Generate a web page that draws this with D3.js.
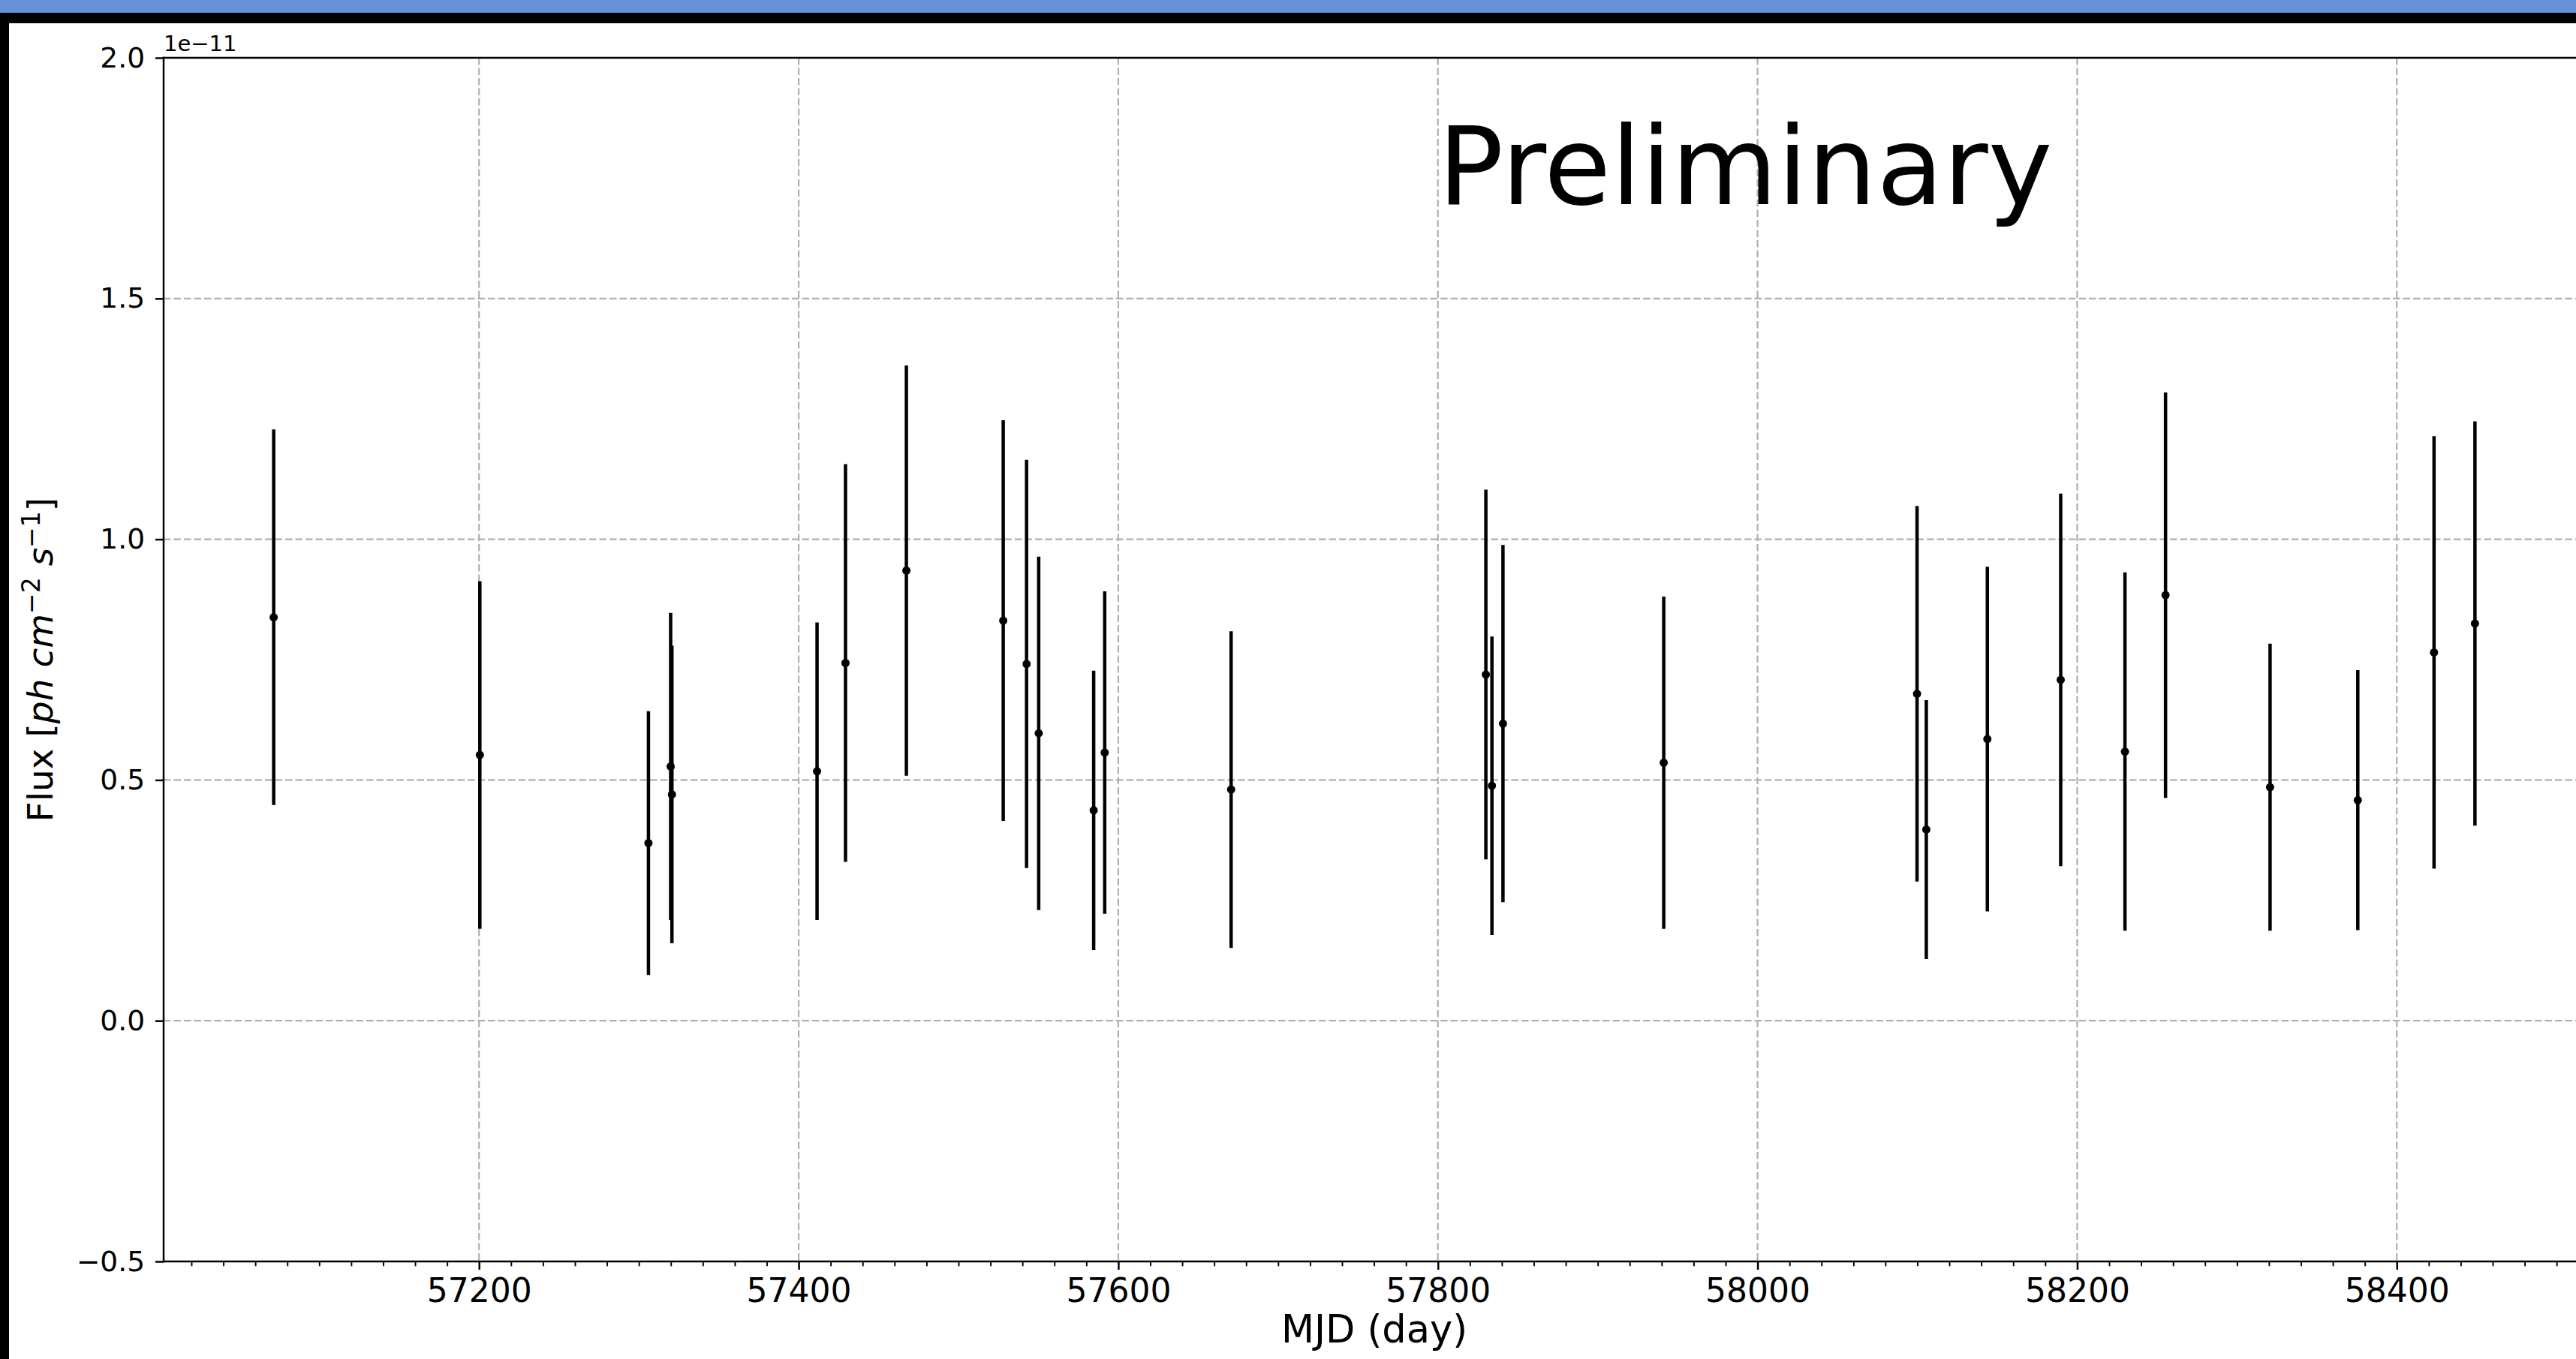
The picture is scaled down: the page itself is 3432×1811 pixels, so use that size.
<!DOCTYPE html>
<html>
<head>
<meta charset="utf-8">
<script src="https://cdn.jsdelivr.net/npm/d3@7"></script>
<style>
  html, body { margin: 0; padding: 0; background: #ffffff; overflow: hidden; }
  svg { display: block; }
  text { font-family: "DejaVu Sans", sans-serif; fill: #000; }
</style>
</head>
<body>
<svg id="chart" width="3432" height="1811"></svg>
<script>
// Light curve: flux per time bin (ph cm^-2 s^-1) with symmetric 1-sigma errors
const mjd = [57071.5, 57200.5, 57306.0, 57319.9, 57320.7, 57411.5, 57429.3, 57467.4,
             57528.0, 57542.6, 57550.2, 57584.6, 57591.5, 57670.6, 57830.0, 57833.8,
             57840.7, 57941.3, 58099.8, 58105.6, 58143.8, 58189.7, 58229.9, 58255.3,
             58320.7, 58375.6, 58423.3, 58448.9];
const flux = [0.838e-11, 0.552e-11, 0.369e-11, 0.528e-11, 0.470e-11, 0.518e-11, 0.743e-11, 0.935e-11,
              0.831e-11, 0.741e-11, 0.597e-11, 0.437e-11, 0.557e-11, 0.480e-11, 0.719e-11, 0.488e-11,
              0.617e-11, 0.536e-11, 0.679e-11, 0.397e-11, 0.585e-11, 0.708e-11, 0.559e-11, 0.884e-11,
              0.485e-11, 0.458e-11, 0.765e-11, 0.825e-11];
const fluxErr = [0.390e-11, 0.361e-11, 0.274e-11, 0.319e-11, 0.309e-11, 0.309e-11, 0.413e-11, 0.426e-11,
                 0.416e-11, 0.424e-11, 0.367e-11, 0.290e-11, 0.335e-11, 0.329e-11, 0.384e-11, 0.310e-11,
                 0.371e-11, 0.345e-11, 0.390e-11, 0.269e-11, 0.358e-11, 0.387e-11, 0.372e-11, 0.421e-11,
                 0.298e-11, 0.270e-11, 0.449e-11, 0.420e-11];

const xTicks = [57200, 57400, 57600, 57800, 58000, 58200, 58400];
const yTicks = [-0.5e-11, 0, 0.5e-11, 1.0e-11, 1.5e-11, 2.0e-11];
const yLimits = [-0.5e-11, 2.0e-11];
const offsetExp = -11;

const W = 3432, H = 1811;
const plot = { left: 218, top: 77, right: 3444, bottom: 1681 };

const svg = d3.select("#chart");

// page frame: blue strip and black border
svg.append("rect").attr("x", 0).attr("y", 0).attr("width", W).attr("height", H).attr("fill", "#ffffff");
svg.append("rect").attr("x", 0).attr("y", 0).attr("width", W).attr("height", 17).attr("fill", "#6592d9");
svg.append("rect").attr("x", 0).attr("y", 17).attr("width", W).attr("height", 14).attr("fill", "#000");
svg.append("rect").attr("x", 0).attr("y", 17).attr("width", 12).attr("height", H - 17).attr("fill", "#000");

// x limits with 5% margins around the data
const xMin = d3.min(mjd), xMax = d3.max(mjd);
const pad = 0.05 * (xMax - xMin);
const x = d3.scaleLinear().domain([xMin - pad, xMax + pad]).range([plot.left, plot.right]);
const y = d3.scaleLinear().domain(yLimits).range([plot.bottom, plot.top]);

const minorTicks = d3.range(Math.ceil(x.domain()[0] / 20) * 20, x.domain()[1], 20)
  .filter(v => v % 200 !== 0);

const gridColor = "#b0b0b0";
const grid = svg.append("g");
grid.selectAll("line.vx").data(xTicks).join("line")
  .attr("x1", d => x(d)).attr("x2", d => x(d))
  .attr("y1", plot.top).attr("y2", plot.bottom)
  .attr("stroke", gridColor).attr("stroke-width", 2.2).attr("stroke-dasharray", "9.5,4");
grid.selectAll("line.hy").data(yTicks).join("line")
  .attr("x1", plot.left).attr("x2", plot.right)
  .attr("y1", d => y(d)).attr("y2", d => y(d))
  .attr("stroke", gridColor).attr("stroke-width", 2.2).attr("stroke-dasharray", "9.5,4");

// axes
const fmtY = d => (d / Math.pow(10, offsetExp)).toFixed(1).replace("-", "\u2212");

const gx = svg.append("g").attr("transform", `translate(0,${plot.bottom})`)
  .call(d3.axisBottom(x).tickValues(xTicks).tickFormat(d3.format("d")).tickSize(11).tickPadding(12));
const gxMinor = svg.append("g").attr("transform", `translate(0,${plot.bottom})`)
  .call(d3.axisBottom(x).tickValues(minorTicks).tickFormat("").tickSize(6.3));
const gy = svg.append("g").attr("transform", `translate(${plot.left},0)`)
  .call(d3.axisLeft(y).tickValues(yTicks).tickFormat(fmtY).tickSize(11).tickPadding(14));

[gx, gxMinor, gy].forEach(g => g.select(".domain").remove());
gx.selectAll(".tick line").attr("stroke", "#000").attr("stroke-width", 2.5);
gxMinor.selectAll(".tick line").attr("stroke", "#000").attr("stroke-width", 1.9);
gy.selectAll(".tick line").attr("stroke", "#000").attr("stroke-width", 2.5);
gx.selectAll(".tick text").attr("font-size", 44).attr("font-family", "DejaVu Sans").attr("fill", "#000");
gy.selectAll(".tick text").attr("font-size", 37.5).attr("font-family", "DejaVu Sans").attr("fill", "#000");

// data: error bars and points
const pts = mjd.map((t, i) => ({ t, f: flux[i], e: fluxErr[i] }));
const marks = svg.append("g");
marks.selectAll("line.err").data(pts).join("line")
  .attr("x1", d => x(d.t)).attr("x2", d => x(d.t))
  .attr("y1", d => y(d.f - d.e)).attr("y2", d => y(d.f + d.e))
  .attr("stroke", "#000").attr("stroke-width", 4.5);
marks.selectAll("circle").data(pts).join("circle")
  .attr("cx", d => x(d.t)).attr("cy", d => y(d.f)).attr("r", 5.5).attr("fill", "#000");

// spines
const spines = svg.append("g").attr("stroke", "#000").attr("stroke-width", 2.5).attr("stroke-linecap", "square");
spines.append("line").attr("x1", plot.left).attr("x2", plot.left).attr("y1", plot.top).attr("y2", plot.bottom);
spines.append("line").attr("x1", plot.left).attr("x2", plot.right).attr("y1", plot.top).attr("y2", plot.top);
spines.append("line").attr("x1", plot.left).attr("x2", plot.right).attr("y1", plot.bottom).attr("y2", plot.bottom);
spines.append("line").attr("x1", plot.right).attr("x2", plot.right).attr("y1", plot.top).attr("y2", plot.bottom);

// offset text for the y axis
svg.append("text").attr("x", plot.left).attr("y", 68).attr("font-size", 29)
  .text("1e\u2212" + Math.abs(offsetExp));

// axis labels
svg.append("text").attr("x", (plot.left + plot.right) / 2).attr("y", 1789)
  .attr("text-anchor", "middle").attr("font-size", 51).text("MJD (day)");

const yl = svg.append("text")
  .attr("transform", `translate(70,${(plot.top + plot.bottom) / 2}) rotate(-90)`)
  .attr("text-anchor", "middle").attr("font-size", 47);
yl.append("tspan").text("Flux [");
yl.append("tspan").attr("font-style", "italic").text("ph cm");
yl.append("tspan").attr("font-size", 33).attr("dy", -17).text("\u22122");
yl.append("tspan").attr("dy", 17).attr("font-style", "italic").text(" s");
yl.append("tspan").attr("font-size", 33).attr("dy", -17).text("\u22121");
yl.append("tspan").attr("dy", 17).text("]");

// annotation
svg.append("text").attr("x", x(57800)).attr("y", 272).attr("font-size", 145).text("Preliminary");
</script>
</body>
</html>
